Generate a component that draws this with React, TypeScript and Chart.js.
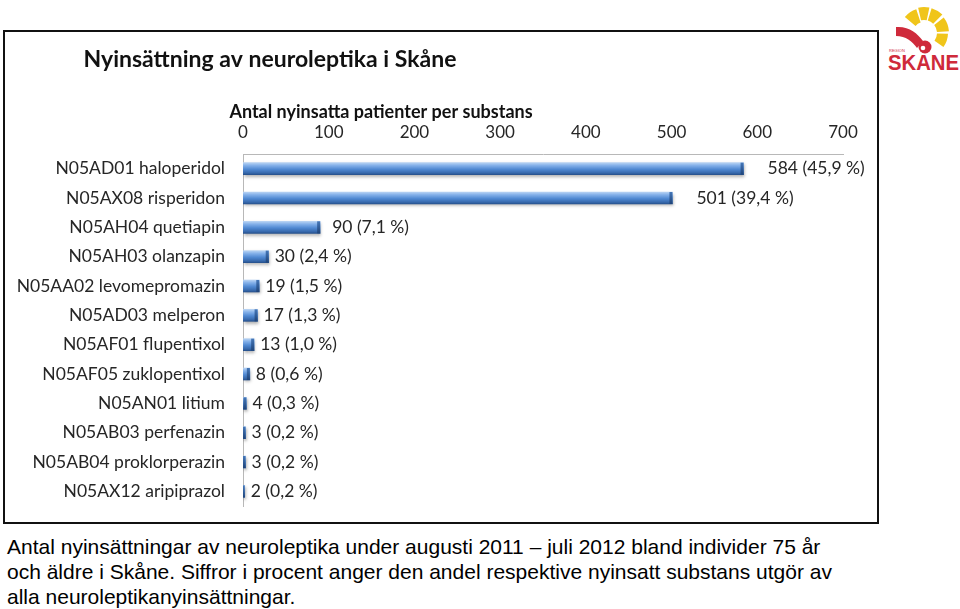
import React, { useEffect, useRef } from "react";
import { Chart, registerables } from "chart.js";

Chart.register(...registerables);

const chartTitle = "Nyinsättning av neuroleptika i Skåne";
const axisTitle = "Antal nyinsatta patienter per substans";
const categories = [
  "N05AD01 haloperidol",
  "N05AX08 risperidon",
  "N05AH04 quetiapin",
  "N05AH03 olanzapin",
  "N05AA02 levomepromazin",
  "N05AD03 melperon",
  "N05AF01 flupentixol",
  "N05AF05 zuklopentixol",
  "N05AN01 litium",
  "N05AB03 perfenazin",
  "N05AB04 proklorperazin",
  "N05AX12 aripiprazol",
];
const values = [584, 501, 90, 30, 19, 17, 13, 8, 4, 3, 3, 2];
const percentLabels = ["45,9", "39,4", "7,1", "2,4", "1,5", "1,3", "1,0", "0,6", "0,3", "0,2", "0,2", "0,2"];
const xMin = 0;
const xMax = 700;
const xStep = 100;
const captionLines = [
  "Antal nyinsättningar av neuroleptika under augusti 2011 – juli 2012 bland individer 75 år",
  "och äldre i Skåne. Siffror i procent anger den andel respektive nyinsatt substans utgör av",
  "alla neuroleptikanyinsättningar.",
];

const FONT = "Lato, 'Open Sans', sans-serif";
const BAR_H = 12;

const chartDecor = {
  id: "chartDecor",
  beforeDatasetDraw(chart: any) {
    const ctx = chart.ctx;
    ctx.save();
    ctx.shadowColor = "rgba(0,0,0,0.3)";
    ctx.shadowBlur = 3;
    ctx.shadowOffsetX = 1;
    ctx.shadowOffsetY = 2;
  },
  afterDatasetDraw(chart: any) {
    chart.ctx.restore();
  },
  afterDatasetsDraw(chart: any) {
    const ctx = chart.ctx;
    const meta = chart.getDatasetMeta(0);
    ctx.save();
    meta.data.forEach((el: any, i: number) => {
      const top = el.y - BAR_H / 2;
      const w = Math.min(3, Math.max(1, el.x - el.base));
      const g = ctx.createLinearGradient(0, top, 0, top + BAR_H);
      g.addColorStop(0, "#4577b8");
      g.addColorStop(1, "#1f4479");
      ctx.fillStyle = g;
      ctx.fillRect(el.x - w, top, w, BAR_H);
      const v = values[i];
      const off = 6 + (v > 400 ? 18 : v > 50 ? 6 : 0);
      ctx.fillStyle = "#262626";
      ctx.font = `17.5px ${FONT}`;
      ctx.textAlign = "left";
      ctx.textBaseline = "middle";
      ctx.fillText(`${v} (${percentLabels[i]} %)`, el.x + off, el.y);
    });
    ctx.restore();
  },
  afterDraw(chart: any) {
    const ctx = chart.ctx;
    ctx.save();
    ctx.font = `bold 23px ${FONT}`;
    ctx.fillStyle = "#111";
    ctx.textAlign = "center";
    ctx.textBaseline = "middle";
    ctx.fillText(chartTitle, 265, 28);
    ctx.font = `bold 18px ${FONT}`;
    ctx.fillText(axisTitle, 376, 80);
    ctx.restore();
  },
};

function barFill(c: any) {
  const ch = c.chart;
  const ys = ch.scales && ch.scales.y;
  if (!ys || c.dataIndex === undefined) return "#4f81bd";
  const cy = ys.getPixelForValue(c.dataIndex);
  if (!Number.isFinite(cy)) return "#4f81bd";
  const g = ch.ctx.createLinearGradient(0, cy - BAR_H / 2, 0, cy + BAR_H / 2);
  g.addColorStop(0, "#b8d3f3");
  g.addColorStop(0.22, "#86b2ea");
  g.addColorStop(0.55, "#5089d2");
  g.addColorStop(0.85, "#3769ad");
  g.addColorStop(1, "#27528e");
  return g;
}

function ChartBox() {
  const ref = useRef<HTMLCanvasElement | null>(null);
  useEffect(() => {
    if (!ref.current) return;
    const chart = new Chart(ref.current, {
      type: "bar",
      data: {
        labels: categories,
        datasets: [
          {
            data: values,
            barThickness: BAR_H,
            borderWidth: 0,
            backgroundColor: barFill,
          },
        ],
      },
      options: {
        indexAxis: "y",
        responsive: false,
        animation: false,
        layout: { padding: { top: 70, right: 34, left: 0, bottom: 16 } },
        plugins: {
          legend: { display: false },
          title: { display: false },
          tooltip: { enabled: false },
        },
        scales: {
          x: {
            position: "top",
            min: xMin,
            max: xMax,
            grid: { display: false, drawTicks: false },
            border: { display: true, color: "#b8b8b8", width: 1 },
            ticks: {
              stepSize: xStep,
              padding: 11,
              color: "#262626",
              font: { family: FONT, size: 17 },
            },
            title: { display: false },
            afterFit: (s: any) => {
              s.height = 52;
            },
          },
          y: {
            grid: { display: false, drawTicks: false },
            border: { display: true, color: "#b8b8b8", width: 1 },
            ticks: {
              padding: 18,
              color: "#262626",
              font: { family: FONT, size: 17.5 },
            },
            afterFit: (s: any) => {
              s.width = 238;
              s.paddingTop = 0;
              s.paddingBottom = 0;
            },
          },
        },
      },
      plugins: [chartDecor],
    } as any);
    return () => chart.destroy();
  }, []);
  return <canvas ref={ref} width={872} height={490} style={{ display: "block" }} />;
}

function Logo() {
  const cx = 44;
  const cy = 33;
  const seg = (a0: number, a1: number, r0: number, r1: number) => {
    const rad = (a: number) => (a * Math.PI) / 180;
    const p = (a: number, r: number) => `${(cx + r * Math.cos(rad(a))).toFixed(2)},${(cy + r * Math.sin(rad(a))).toFixed(2)}`;
    return `M${p(a0, r0)} L${p(a0, r1)} A${r1},${r1} 0 0 1 ${p(a1, r1)} L${p(a1, r0)} A${r0},${r0} 0 0 0 ${p(a0, r0)} Z`;
  };
  const yellow = "#f0c51a";
  const red = "#cf2a3b";
  return (
    <svg width={80} height={75} viewBox="0 0 80 75" style={{ position: "absolute", left: 880, top: 0 }}>
      <path d={seg(-140, -108, 11, 25)} fill={yellow} />
      <path d={seg(-103, -78, 13, 26)} fill={yellow} />
      <path d={seg(-73, -45, 13, 26)} fill={yellow} />
      <path d={seg(-38, -4, 13, 25)} fill={yellow} />
      <path d={seg(2, 36, 13, 24)} fill={yellow} />
      <path d="M16,27 C29,26 37,33 43,41 L37,48 C32,41 26,36 16,36 Z" fill={red} />
      <circle cx={45} cy={47} r={6.5} fill={red} />
      <circle cx={43} cy={48} r={2.3} fill="#fff" />
      <text x={9} y={52} fontSize={4} fill={red} fontFamily="'Liberation Sans', Arial, sans-serif">
        REGION
      </text>
      <text
        x={8}
        y={70}
        fontSize={22}
        fontWeight="bold"
        fill={red}
        fontFamily="'Liberation Sans', Arial, sans-serif"
        textLength={71}
        lengthAdjust="spacingAndGlyphs"
      >
        SKANE
      </text>
    </svg>
  );
}

export default function App() {
  return (
    <div style={{ position: "fixed", left: 0, top: 0, width: 960, height: 609, background: "#fff", overflow: "hidden" }}>
      <div
        style={{
          position: "absolute",
          left: 3,
          top: 30,
          width: 876,
          height: 494,
          boxSizing: "border-box",
          border: "2px solid #111",
          background: "#fff",
        }}
      >
        <ChartBox />
      </div>
      <Logo />
      <div
        style={{
          position: "absolute",
          left: 7,
          top: 534,
          fontFamily: "'Liberation Sans', Arial, sans-serif",
          fontSize: 21,
          lineHeight: "25px",
          color: "#000",
          whiteSpace: "nowrap",
        }}
      >
        {captionLines.map((l, i) => (
          <div key={i}>{l}</div>
        ))}
      </div>
    </div>
  );
}
